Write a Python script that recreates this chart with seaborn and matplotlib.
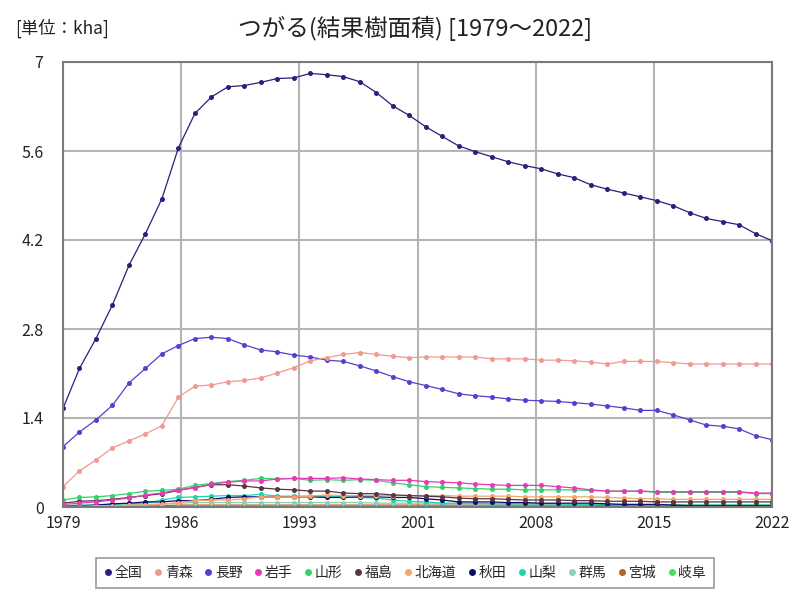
import matplotlib
matplotlib.use("Agg")
import matplotlib.pyplot as plt
import seaborn as sns
import numpy as np
import pandas as pd
from matplotlib.lines import Line2D

years = list(range(1979, 2023))

zenkoku = [1.55, 2.18, 2.65, 3.18, 3.80, 4.30, 4.85, 5.65, 6.19, 6.45, 6.61, 6.63, 6.68, 6.74, 6.75, 6.82, 6.80, 6.77, 6.69, 6.52, 6.31, 6.16,
           5.98, 5.83, 5.68, 5.59, 5.51, 5.43, 5.37, 5.32, 5.24, 5.18, 5.07, 5.00, 4.94, 4.88, 4.82, 4.74, 4.63, 4.54, 4.49, 4.44, 4.30, 4.19]
aomori = [0.32, 0.57, 0.74, 0.93, 1.04, 1.15, 1.28, 1.73, 1.90, 1.92, 1.97, 1.99, 2.03, 2.11, 2.19, 2.30, 2.35, 2.40, 2.43, 2.40, 2.37, 2.35,
          2.36, 2.36, 2.36, 2.36, 2.33, 2.33, 2.33, 2.31, 2.31, 2.30, 2.28, 2.25, 2.29, 2.29, 2.29, 2.27, 2.25, 2.25, 2.25, 2.25, 2.25, 2.25]
nagano = [0.95, 1.18, 1.37, 1.60, 1.95, 2.18, 2.41, 2.54, 2.65, 2.67, 2.65, 2.55, 2.47, 2.44, 2.39, 2.36, 2.31, 2.29, 2.22, 2.14, 2.05, 1.97,
          1.91, 1.85, 1.78, 1.75, 1.73, 1.70, 1.68, 1.67, 1.66, 1.64, 1.62, 1.59, 1.56, 1.52, 1.52, 1.45, 1.37, 1.29, 1.27, 1.23, 1.12, 1.06]
iwate = [0.04, 0.06, 0.08, 0.11, 0.14, 0.19, 0.22, 0.27, 0.30, 0.36, 0.39, 0.41, 0.41, 0.44, 0.45, 0.45, 0.45, 0.46, 0.44, 0.43, 0.42, 0.42,
         0.40, 0.39, 0.38, 0.36, 0.35, 0.34, 0.34, 0.34, 0.32, 0.30, 0.27, 0.25, 0.25, 0.25, 0.24, 0.24, 0.24, 0.24, 0.24, 0.24, 0.22, 0.22]
yamagata = [0.11, 0.15, 0.16, 0.18, 0.21, 0.25, 0.26, 0.28, 0.34, 0.37, 0.40, 0.42, 0.45, 0.44, 0.45, 0.42, 0.43, 0.42, 0.43, 0.42, 0.38, 0.35,
            0.32, 0.31, 0.30, 0.29, 0.28, 0.28, 0.27, 0.27, 0.27, 0.27, 0.26, 0.25, 0.25, 0.25, 0.23, 0.23, 0.23, 0.23, 0.23, 0.23, 0.21, 0.21]
fukushima = [0.06, 0.09, 0.10, 0.12, 0.15, 0.18, 0.21, 0.26, 0.31, 0.35, 0.35, 0.33, 0.30, 0.28, 0.27, 0.25, 0.25, 0.22, 0.21, 0.21, 0.19, 0.18,
             0.17, 0.16, 0.14, 0.13, 0.13, 0.12, 0.11, 0.11, 0.11, 0.10, 0.10, 0.09, 0.09, 0.09, 0.08, 0.08, 0.08, 0.08, 0.08, 0.08, 0.08, 0.08]
hokkaido = [0.01, 0.01, 0.02, 0.02, 0.03, 0.03, 0.04, 0.07, 0.10, 0.11, 0.11, 0.13, 0.16, 0.16, 0.16, 0.17, 0.19, 0.18, 0.18, 0.18, 0.18, 0.18,
            0.18, 0.18, 0.17, 0.17, 0.17, 0.17, 0.16, 0.16, 0.16, 0.16, 0.16, 0.15, 0.14, 0.13, 0.13, 0.12, 0.12, 0.12, 0.12, 0.12, 0.12, 0.12]
akita = [0.01, 0.02, 0.03, 0.05, 0.06, 0.08, 0.08, 0.10, 0.10, 0.12, 0.15, 0.16, 0.16, 0.16, 0.16, 0.16, 0.15, 0.15, 0.16, 0.16, 0.15, 0.15,
         0.13, 0.11, 0.08, 0.08, 0.08, 0.07, 0.07, 0.06, 0.06, 0.06, 0.06, 0.05, 0.04, 0.04, 0.04, 0.03, 0.02, 0.02, 0.02, 0.02, 0.02, 0.02]
yamanashi = [0.02, 0.03, 0.03, 0.04, 0.05, 0.06, 0.11, 0.15, 0.16, 0.17, 0.18, 0.18, 0.20, 0.17, 0.17, 0.17, 0.17, 0.16, 0.15, 0.14, 0.11, 0.09,
             0.08, 0.06, 0.06, 0.06, 0.05, 0.05, 0.05, 0.05, 0.05, 0.04, 0.04, 0.04, 0.04, 0.04, 0.03, 0.03, 0.03, 0.03, 0.03, 0.03, 0.03, 0.03]
gunma = [0.01, 0.01, 0.02, 0.02, 0.03, 0.04, 0.05, 0.06, 0.07, 0.07, 0.07, 0.07, 0.07, 0.07, 0.07, 0.07, 0.07, 0.07, 0.07, 0.06, 0.06, 0.06,
         0.06, 0.06, 0.05, 0.05, 0.05, 0.05, 0.05, 0.05, 0.05, 0.04, 0.04, 0.04, 0.04, 0.04, 0.04, 0.04, 0.04, 0.04, 0.04, 0.04, 0.04, 0.04]
miyagi = [0.00, 0.01, 0.01, 0.01, 0.01, 0.02, 0.02, 0.03, 0.03, 0.03, 0.03, 0.03, 0.03, 0.03, 0.03, 0.03, 0.03, 0.03, 0.03, 0.03, 0.03, 0.03,
          0.03, 0.03, 0.03, 0.03, 0.03, 0.03, 0.03, 0.03, 0.03, 0.03, 0.03, 0.02, 0.02, 0.02, 0.02, 0.02, 0.02, 0.02, 0.02, 0.02, 0.02, 0.02]
gifu = [0.00, 0.00, 0.00, 0.01, 0.01, 0.01, 0.01, 0.01, 0.01, 0.01, 0.01, 0.01, 0.01, 0.01, 0.01, 0.01, 0.01, 0.01, 0.01, 0.01, 0.01, 0.01,
        0.01, 0.01, 0.01, 0.01, 0.01, 0.01, 0.01, 0.01, 0.01, 0.01, 0.01, 0.01, 0.01, 0.01, 0.01, 0.01, 0.01, 0.01, 0.01, 0.01, 0.01, 0.01]

series_names = ["全国", "青森", "長野", "岩手", "山形", "福島", "北海道", "秋田", "山梨", "群馬", "宮城", "岐阜"]
series_values = [zenkoku, aomori, nagano, iwate, yamagata, fukushima, hokkaido, akita, yamanashi, gunma, miyagi, gifu]
colors = ["#2b1f7a", "#f09a90", "#5540d0", "#e83ab8", "#2fd36a", "#5a3440", "#f4a56a", "#0d0d6e", "#22d4a8", "#8fd0b8", "#b8631f", "#44e060"]

xtick_pos = list(np.linspace(1979, 2022, 7))
xtick_labels = ["1979", "1986", "1993", "2001", "2008", "2015", "2022"]
ytick_pos = [0, 1.4, 2.8, 4.2, 5.6, 7]
ytick_labels = ["0", "1.4", "2.8", "4.2", "5.6", "7"]

sns.set_theme(style="white")
plt.rcParams['font.family'] = ['Noto Sans CJK JP', 'DejaVu Sans']

df = pd.DataFrame({"year": np.tile(years, len(series_names)),
                   "value": np.concatenate(series_values),
                   "series": np.repeat(series_names, len(years))})

fig = plt.figure(figsize=(8, 6), dpi=100)
ax = fig.add_axes([63/800, 1-507/600, (772-63)/800, (507-62)/600])

# draw in reverse so 全国 is on top
for name, col in list(zip(series_names, colors))[::-1]:
    sub = df[df["series"] == name]
    sns.lineplot(data=sub, x="year", y="value", color=col, linewidth=0.9,
                 marker="o", markersize=3.6, markeredgewidth=0, ax=ax, legend=False)

ax.set_xlim(1979, 2022)
ax.set_ylim(0, 7)
ax.set_xticks(xtick_pos)
ax.set_xticklabels(xtick_labels)
ax.set_yticks(ytick_pos)
ax.set_yticklabels(ytick_labels)
ax.set_xlabel("")
ax.set_ylabel("")
ax.grid(True, color="#b4b4b4", linewidth=1.5)
ax.set_axisbelow(True)
for s in ax.spines.values():
    s.set_color("#7a7a7a")
    s.set_linewidth(1.5)
ax.tick_params(axis="both", length=0, labelsize=11.5, colors="#222222")
ax.tick_params(axis="y", pad=14)
ax.tick_params(axis="x", pad=6)

fig.text(415/800, 1-28/600, "つがる(結果樹面積) [1979～2022]", ha="center", va="center", fontsize=17, color="#222222")
fig.text(15/800, 1-28/600, "[単位：kha]", ha="left", va="center", fontsize=12.5, color="#222222")

handles = [Line2D([0], [0], marker="o", linestyle="", color=c, markersize=5, markeredgewidth=0) for c in colors]
leg = fig.legend(handles, series_names, loc="center", bbox_to_anchor=(405/800, 1-573/600), ncol=12,
                 fontsize=10, frameon=True, fancybox=False, handlelength=0.6, handletextpad=0.2,
                 columnspacing=0.8, borderpad=0.55)
leg.get_frame().set_edgecolor("#808080")
leg.get_frame().set_linewidth(1.2)

fig.savefig("out.png", dpi=100)
